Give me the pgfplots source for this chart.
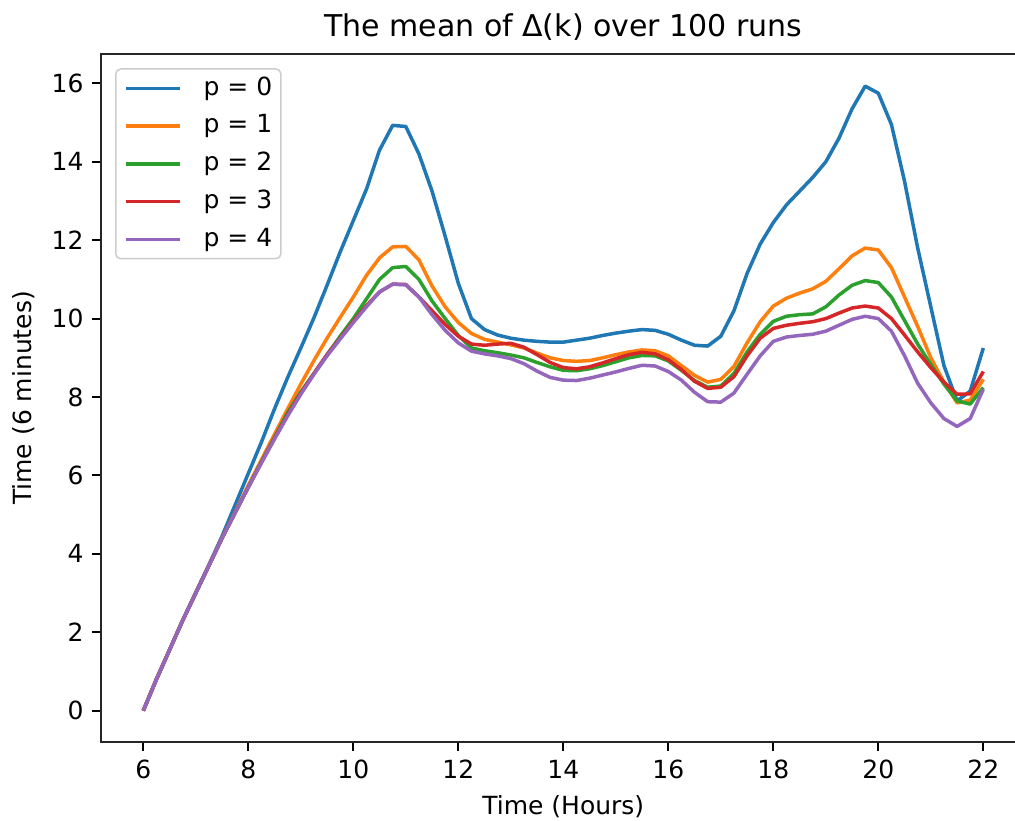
\documentclass[border=0pt]{standalone}
\usepackage{fontspec}
\setmainfont{DejaVu Sans}
\usepackage{pgfplots}
\usepackage{pgfplotstable}
\pgfplotsset{compat=1.18}
\definecolor{c0}{HTML}{1F77B4}
\definecolor{c1}{HTML}{FF7F0E}
\definecolor{c2}{HTML}{2CA02C}
\definecolor{c3}{HTML}{D62728}
\definecolor{c4}{HTML}{9467BD}

% mean of Delta(k), columns p = 0..4
\pgfplotstableread{
x     p0    p1    p2    p3    p4
6.00  0.00  0.00  0.00  0.00  0.00
6.25  0.80  0.80  0.80  0.80  0.80
6.50  1.55  1.55  1.55  1.55  1.55
6.75  2.30  2.30  2.30  2.30  2.30
7.00  3.02  3.00  3.00  3.00  3.00
7.25  3.72  3.70  3.70  3.70  3.70
7.50  4.45  4.40  4.40  4.40  4.40
7.75  5.25  5.07  5.05  5.05  5.05
8.00  6.05  5.75  5.70  5.70  5.70
8.25  6.85  6.40  6.35  6.33  6.32
8.50  7.70  7.05  6.97  6.95  6.93
8.75  8.50  7.70  7.60  7.55  7.52
9.00  9.25  8.33  8.13  8.10  8.07
9.25  10.02 8.93  8.60  8.60  8.58
9.50  10.85 9.50  9.08  9.08  9.05
9.75  11.70 10.03 9.55  9.50  9.48
10.00 12.50 10.55 10.00 9.93  9.90
10.25 13.30 11.10 10.50 10.33 10.30
10.50 14.30 11.55 11.00 10.68 10.68
10.75 14.93 11.83 11.30 10.88 10.88
11.00 14.90 11.84 11.33 10.87 10.86
11.25 14.20 11.50 11.00 10.55 10.55
11.50 13.25 10.83 10.45 10.20 10.10
11.75 12.10 10.30 10.00 9.85  9.70
12.00 10.90 9.90  9.57  9.55  9.38
12.25 10.00 9.62  9.25  9.35  9.17
12.50 9.72  9.47  9.18  9.32  9.10
12.75 9.58  9.40  9.13  9.35  9.05
13.00 9.50  9.33  9.07  9.37  8.98
13.25 9.45  9.25  9.00  9.27  8.85
13.50 9.42  9.12  8.88  9.08  8.66
13.75 9.40  9.00  8.77  8.88  8.50
14.00 9.40  8.93  8.68  8.75  8.43
14.25 9.45  8.91  8.67  8.72  8.42
14.50 9.50  8.93  8.72  8.77  8.48
14.75 9.57  9.00  8.80  8.87  8.56
15.00 9.63  9.08  8.90  8.98  8.64
15.25 9.68  9.15  9.00  9.08  8.73
15.50 9.72  9.20  9.06  9.14  8.81
15.75 9.70  9.18  9.05  9.10  8.79
16.00 9.60  9.05  8.92  8.95  8.65
16.25 9.45  8.80  8.68  8.70  8.43
16.50 9.32  8.55  8.42  8.40  8.12
16.75 9.30  8.38  8.25  8.22  7.88
17.00 9.55  8.45  8.28  8.25  7.87
17.25 10.20 8.78  8.60  8.52  8.10
17.50 11.15 9.38  9.15  9.05  8.58
17.75 11.90 9.92  9.60  9.50  9.05
18.00 12.45 10.32 9.93  9.75  9.42
18.25 12.90 10.52 10.06 9.83  9.53
18.50 13.25 10.65 10.10 9.88  9.57
18.75 13.60 10.76 10.12 9.92  9.60
19.00 14.00 10.95 10.30 10.00 9.68
19.25 14.60 11.27 10.60 10.14 9.83
19.50 15.35 11.60 10.85 10.27 9.98
19.75 15.93 11.80 10.97 10.32 10.06
20.00 15.75 11.75 10.92 10.27 10.00
20.25 14.95 11.30 10.55 10.00 9.68
20.50 13.50 10.55 9.95  9.58  9.05
20.75 11.80 9.80  9.35  9.15  8.35
21.00 10.30 9.00  8.83  8.75  7.85
21.25 8.80  8.38  8.33  8.38  7.45
21.50 7.90  7.85  7.90  8.07  7.25
21.75 8.15  7.92  7.82  8.08  7.45
22.00 9.25  8.45  8.24  8.65  8.20
}\meandelta

\begin{document}
\begin{tikzpicture}
\begin{axis}[
    scale only axis,
    width=369.6pt, height=275.2pt,
    xmin=5.2, xmax=22.8,
    ymin=-0.8, ymax=16.75,
    xtick={6,8,...,22},
    ytick={0,2,...,16},
    tick pos=left,
    tick align=outside,
    major tick length=3.6pt,
    tick style={black, line width=0.8pt},
    axis line style={line width=0.8pt, black!85},
    /pgf/number format/assume math mode=true,
    ticklabel style={font=\fontsize{10}{12}\selectfont},
    title={The mean of Δ(k) over 100 runs},
    title style={font=\fontsize{12}{14}\selectfont, yshift=-4pt},
    xlabel={Time (Hours)},
    ylabel={Time (6 minutes)},
    label style={font=\fontsize{10}{12}\selectfont},
    every axis plot/.append style={line width=1.4pt, line join=round},
    legend cell align=left,
    legend image code/.code={\draw[#1] (0pt,0pt) -- (21.6pt,0pt);},
    legend style={at={(0,1)}, anchor=north west, xshift=5.5pt, yshift=-5.7pt,
        draw=black!20, line width=0.6pt, rounded corners=2pt,
        fill=white, fill opacity=0.8, text opacity=1,
        font=\fontsize{10}{12}\selectfont,
        inner xsep=3.5pt, inner ysep=3pt,
        row sep=5.6pt, column sep=8.6pt,
        nodes={inner sep=0pt, text height=7.5pt, text depth=2pt}},
]
\addplot[c0] table[x=x, y=p0] {\meandelta};
\addlegendentry{p = 0}
\addplot[c1] table[x=x, y=p1] {\meandelta};
\addlegendentry{p = 1}
\addplot[c2] table[x=x, y=p2] {\meandelta};
\addlegendentry{p = 2}
\addplot[c3] table[x=x, y=p3] {\meandelta};
\addlegendentry{p = 3}
\addplot[c4] table[x=x, y=p4] {\meandelta};
\addlegendentry{p = 4}
\coordinate (o) at (rel axis cs:0,0);
\end{axis}
% the reference is cut off at its right edge, just past x = 22.6
\pgfresetboundingbox
\path ([shift={(-40.52pt,-31.6pt)}]o) rectangle ([shift={(365.48pt,296.8pt)}]o);
\end{tikzpicture}
\end{document}
